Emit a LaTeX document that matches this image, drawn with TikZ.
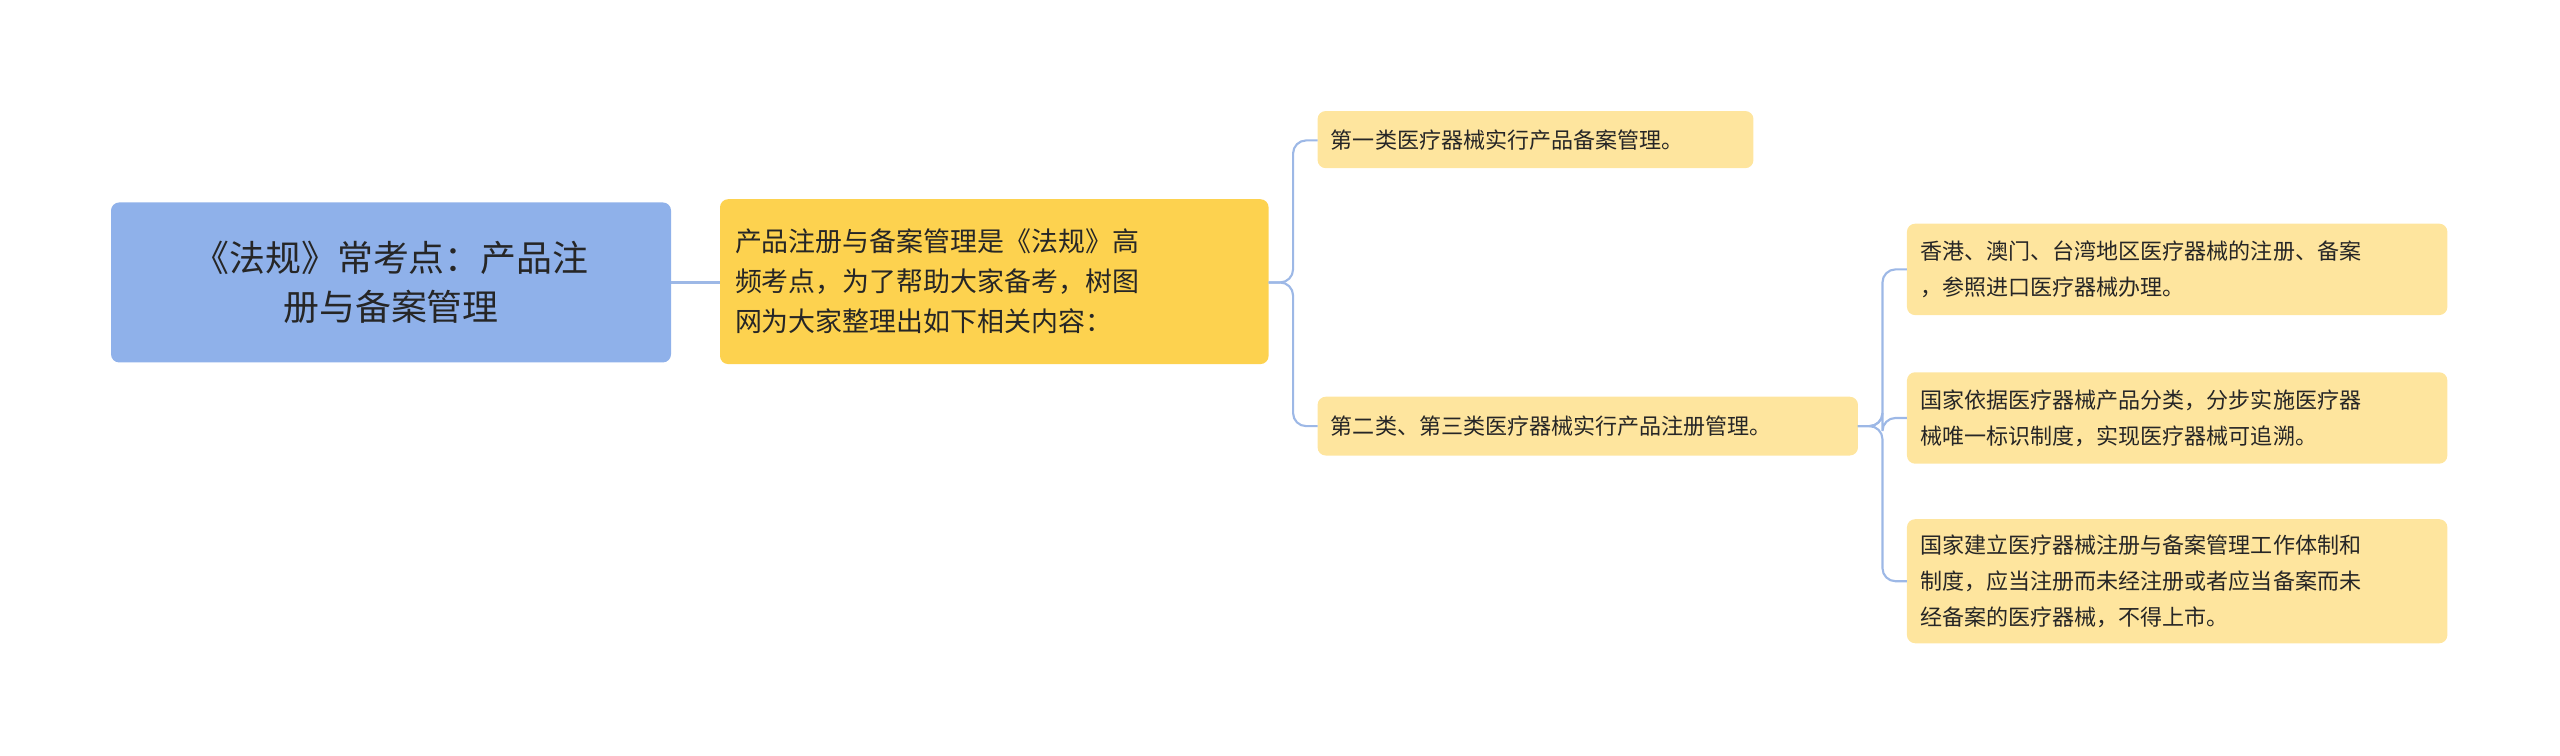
\documentclass[tikz,border=0pt]{standalone}
\usepackage{fontspec}
\setmainfont{Noto Sans CJK SC}
\begin{document}
\begin{tikzpicture}[x=1pt,y=-1pt,
  box/.style={rounded corners=5pt,inner sep=0pt,text=black!85},
  conn/.style={draw=blue!35!cyan!20!gray!60,line width=1.3pt,rounded corners=8pt}]
\definecolor{rootc}{HTML}{8FB1EA}
\definecolor{l1c}{HTML}{FDD24F}
\definecolor{l2c}{HTML}{FEE59E}
\definecolor{lc}{HTML}{9DB8E6}
\tikzset{conn/.style={draw=lc,line width=1.3pt,rounded corners=8pt}}
\useasboundingbox (0,0) rectangle (1568,463);
\fill[rootc,rounded corners=5pt] (68,124) rectangle (411,222);
\node[box,align=center,font=\fontsize{22}{30}\selectfont] (root) at (239.5,173) {《法规》常考点：产品注\\册与备案管理};
\coordinate (rootE) at (411,173);
\fill[l1c,rounded corners=5pt] (441,122) rectangle (777,223);
\node[box,align=left,font=\fontsize{16.5}{24.5}\selectfont,anchor=west] (n1) at (450,172.5) {产品注册与备案管理是《法规》高\\频考点，为了帮助大家备考，树图\\网为大家整理出如下相关内容：};
\coordinate (n1W) at (441,173); \coordinate (n1E) at (777,173);
\fill[l2c,rounded corners=5pt] (807,68) rectangle (1074,103);
\node[box,anchor=west,font=\fontsize{13.5}{20}\selectfont] (a) at (815,86) {第一类医疗器械实行产品备案管理。};
\coordinate (aW) at (807,86);
\fill[l2c,rounded corners=5pt] (807,243) rectangle (1138,279);
\node[box,anchor=west,font=\fontsize{13.5}{20}\selectfont] (b) at (815,261) {第二类、第三类医疗器械实行产品注册管理。};
\coordinate (bW) at (807,261); \coordinate (bE) at (1138,261);
\fill[l2c,rounded corners=5pt] (1168,137) rectangle (1499,193);
\node[box,anchor=west,align=left,font=\fontsize{13.5}{22}\selectfont] (c1) at (1176,165) {香港、澳门、台湾地区医疗器械的注册、备案\\，参照进口医疗器械办理。};
\fill[l2c,rounded corners=5pt] (1168,228) rectangle (1499,284);
\node[box,anchor=west,align=left,font=\fontsize{13.5}{22}\selectfont] (c2) at (1176,256) {国家依据医疗器械产品分类，分步实施医疗器\\械唯一标识制度，实现医疗器械可追溯。};
\fill[l2c,rounded corners=5pt] (1168,318) rectangle (1499,394);
\node[box,anchor=west,align=left,font=\fontsize{13.5}{22}\selectfont] (c3) at (1176,356) {国家建立医疗器械注册与备案管理工作体制和\\制度，应当注册而未经注册或者应当备案而未\\经备案的医疗器械，不得上市。};
\coordinate (c1W) at (1168,165); \coordinate (c2W) at (1168,256); \coordinate (c3W) at (1168,356);
\draw[conn] (rootE) -- (n1W);
\draw[conn] (n1E) -- (792,173) |- (aW);
\draw[conn] (n1E) -- (792,173) |- (bW);
\draw[conn] (bE) -- (1153,261) |- (c1W);
\draw[conn] (bE) -- (1153,261) |- (c2W);
\draw[conn] (bE) -- (1153,261) |- (c3W);
\end{tikzpicture}
\end{document}
